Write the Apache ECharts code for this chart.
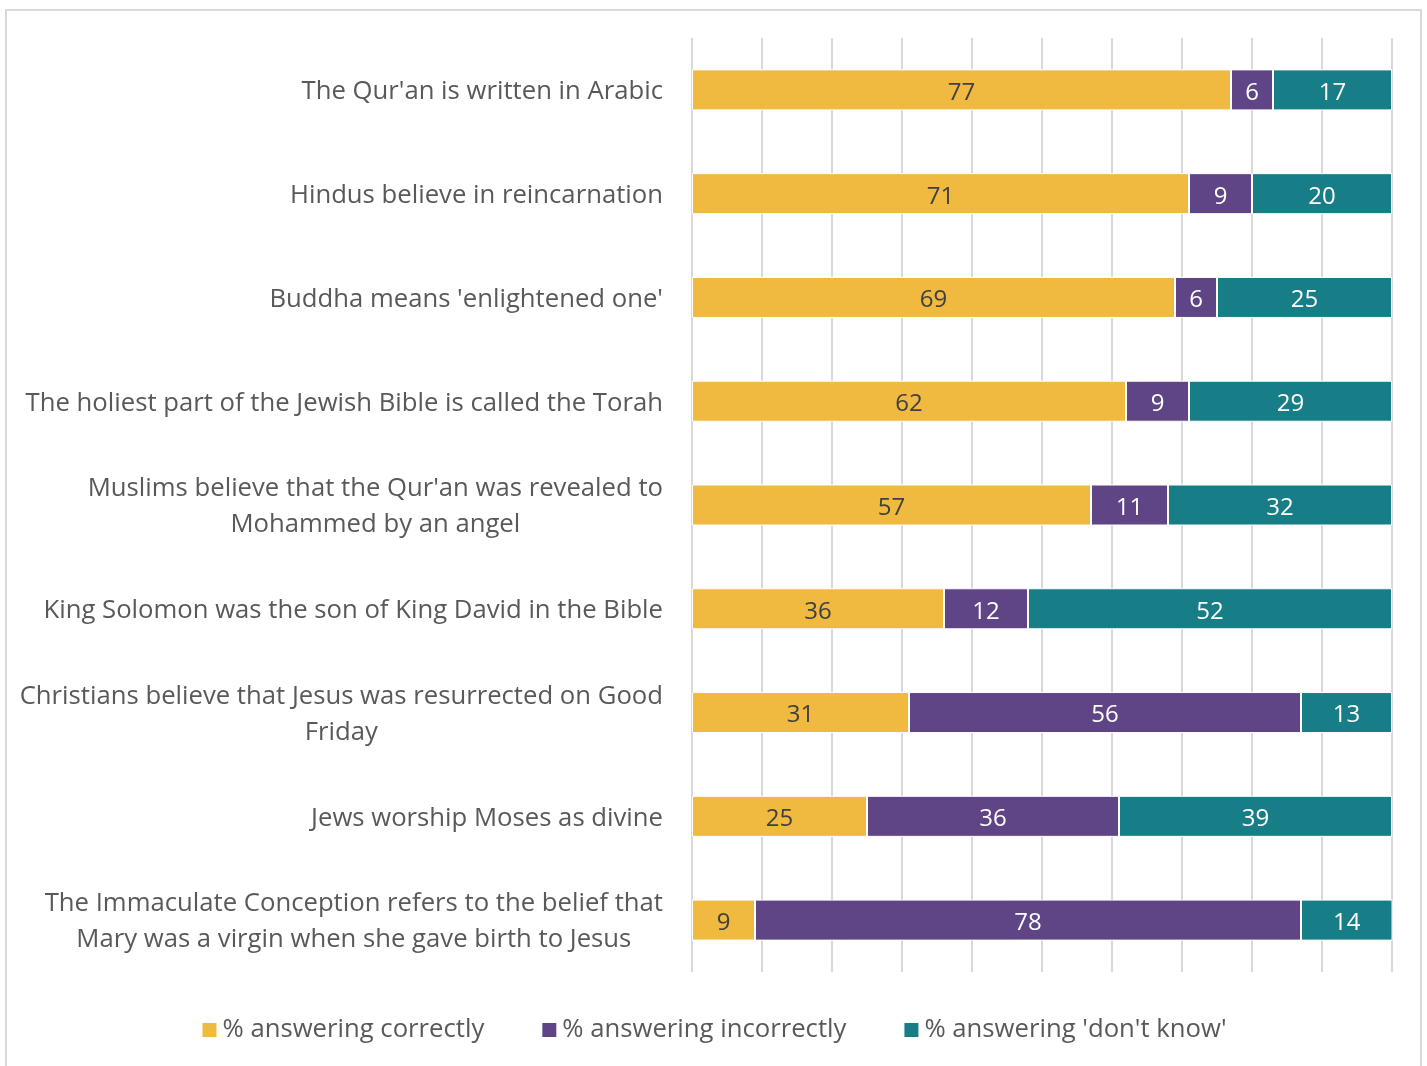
<!DOCTYPE html>
<html>
<head>
<meta charset="utf-8">
<script src="https://cdn.jsdelivr.net/npm/echarts@6/dist/echarts.min.js"></script>
<style>
  html, body { margin: 0; padding: 0; background: #fff; }
  #main { width: 1427px; height: 1066px; }
  #frame { position: absolute; left: 5px; top: 9px; width: 1413px; height: 1070px;
    border: 2px solid #d9d9d9; pointer-events: none; }
</style>
</head>
<body>
<div id="main"></div>
<div id="frame"></div>
<script>
const statements = [
  "The Qur'an is written in Arabic",
  "Hindus believe in reincarnation",
  "Buddha means 'enlightened one'",
  "The holiest part of the Jewish Bible is called the Torah",
  "Muslims believe that the Qur'an was revealed to\nMohammed by an angel",
  "King Solomon was the son of King David in the Bible",
  "Christians believe that Jesus was resurrected on Good\nFriday",
  "Jews worship Moses as divine",
  "The Immaculate Conception refers to the belief that\nMary was a virgin when she gave birth to Jesus"
];
const correct   = [77, 71, 69, 62, 57, 36, 31, 25, 9];
const incorrect = [6, 9, 6, 9, 11, 12, 56, 36, 78];
const dontKnow  = [17, 20, 25, 29, 32, 52, 13, 39, 14];
const seriesNames = ['% answering correctly', '% answering incorrectly', "% answering 'don't know'"];

const FONT = 'Open Sans';
const chart = echarts.init(document.getElementById('main'));

function barSeries(name, data, color, labelColor) {
  return {
    name: name,
    type: 'bar',
    stack: 'total',
    data: data,
    barWidth: 41,
    itemStyle: { color: color, borderColor: '#fff', borderWidth: 1 },
    label: {
      show: true,
      position: 'inside',
      color: labelColor,
      fontFamily: FONT,
      fontSize: 24,
      offset: [0, 3]
    }
  };
}

chart.setOption({
  animation: false,
  textStyle: { fontFamily: FONT },
  grid: { left: 692, right: 35, top: 38, bottom: 94 },
  xAxis: {
    type: 'value',
    min: 0,
    max: 100,
    interval: 10,
    axisLabel: { show: false },
    axisLine: { show: false },
    axisTick: { show: false },
    splitLine: { lineStyle: { color: '#d9d9d9', width: 2 } }
  },
  yAxis: {
    type: 'category',
    inverse: true,
    data: statements,
    axisLine: { show: false },
    axisTick: { show: false },
    axisLabel: {
      margin: 29,
      formatter: function (v) {
        return v.split('\n').map(function (s) { return '{c|' + s + '}'; }).join('\n');
      },
      rich: {
        c: { align: 'center', fontFamily: FONT, fontSize: 25.7, color: '#595959', lineHeight: 36, padding: [4, 0, 0, 0] }
      }
    }
  },
  legend: {
    bottom: 18,
    left: 'center',
    itemWidth: 16,
    itemHeight: 16,
    itemGap: 56,
    icon: 'rect',
    textStyle: { fontFamily: FONT, fontSize: 25.7, color: '#595959' },
    data: seriesNames
  },
  series: [
    barSeries(seriesNames[0], correct, '#f0b93f', '#404040'),
    barSeries(seriesNames[1], incorrect, '#5f4486', '#ffffff'),
    barSeries(seriesNames[2], dontKnow, '#177d87', '#ffffff')
  ]
});
</script>
</body>
</html>
